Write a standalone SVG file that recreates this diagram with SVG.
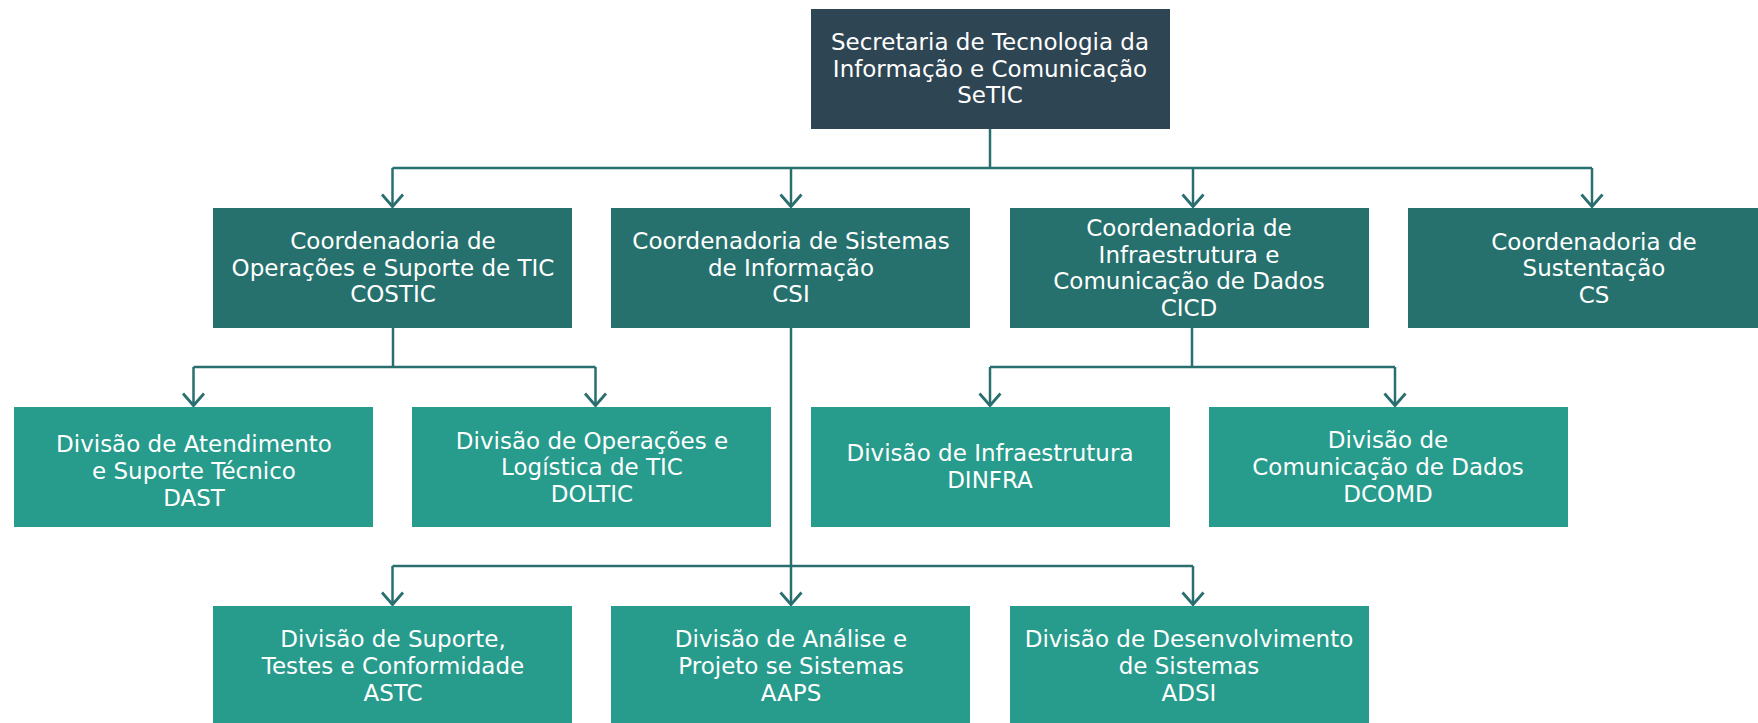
<svg xmlns="http://www.w3.org/2000/svg" width="1758" height="723" viewBox="0 0 1758 723">
<defs>
<style>
.top{fill:#2e4553}
.l1{fill:#26716d}
.l2{fill:#279b8c}
text{font-family:"DejaVu Sans","Liberation Sans",sans-serif;font-size:23px;fill:#ffffff;text-anchor:middle}
.c{fill:none;stroke:#2a6f6f;stroke-width:2.5}
</style>
<marker id="arr" markerUnits="userSpaceOnUse" markerWidth="30" markerHeight="30" viewBox="-15 -15 30 30" refX="0" refY="0" orient="auto" overflow="visible">
<path d="M-12,-10.5 L0,0 L-12,10.5" fill="none" stroke="#2a6f6f" stroke-width="2.8"/>
</marker>
</defs>
<rect width="1758" height="723" fill="#ffffff"/>
<g id="connectors" class="c">
<path d="M990,129 V168 M392.5,168 H1592"/>
<path d="M392.5,168 V206.5" marker-end="url(#arr)"/>
<path d="M791,168 V206.5" marker-end="url(#arr)"/>
<path d="M1193,168 V206.5" marker-end="url(#arr)"/>
<path d="M1592,168 V206.5" marker-end="url(#arr)"/>
<path d="M393,328 V367 M193.5,367 H595.5"/>
<path d="M193.5,367 V405.5" marker-end="url(#arr)"/>
<path d="M595.5,367 V405.5" marker-end="url(#arr)"/>
<path d="M1192,328 V367 M990,367 H1395"/>
<path d="M990,367 V405.5" marker-end="url(#arr)"/>
<path d="M1395,367 V405.5" marker-end="url(#arr)"/>
<path d="M791,328 V566 M392.5,566 H1193"/>
<path d="M392.5,566 V604.5" marker-end="url(#arr)"/>
<path d="M791,566 V604.5" marker-end="url(#arr)"/>
<path d="M1193,566 V604.5" marker-end="url(#arr)"/>
</g>
<g id="setic">
<rect class="top" x="811" y="9" width="359" height="120"/>
<text x="990" y="50">Secretaria de Tecnologia da</text>
<text x="990" y="76.5">Informação e Comunicação</text>
<text x="990" y="103">SeTIC</text>
</g>
<g id="costic">
<rect class="l1" x="213" y="208" width="359" height="120"/>
<text x="393" y="249.3">Coordenadoria de</text>
<text x="393" y="275.5">Operações e Suporte de TIC</text>
<text x="393" y="302">COSTIC</text>
</g>
<g id="csi">
<rect class="l1" x="611" y="208" width="359" height="120"/>
<text x="791" y="249.3">Coordenadoria de Sistemas</text>
<text x="791" y="275.5">de Informação</text>
<text x="791" y="302">CSI</text>
</g>
<g id="cicd">
<rect class="l1" x="1010" y="208" width="359" height="120"/>
<text x="1189" y="236">Coordenadoria de</text>
<text x="1189" y="262.5">Infraestrutura e</text>
<text x="1189" y="289">Comunicação de Dados</text>
<text x="1189" y="315.5">CICD</text>
</g>
<g id="cs">
<rect class="l1" x="1408" y="208" width="372" height="120"/>
<text x="1594" y="250">Coordenadoria de</text>
<text x="1594" y="276.3">Sustentação</text>
<text x="1594" y="302.7">CS</text>
</g>
<g id="dast">
<rect class="l2" x="14" y="407" width="359" height="120"/>
<text x="194" y="452">Divisão de Atendimento</text>
<text x="194" y="479">e Suporte Técnico</text>
<text x="194" y="506">DAST</text>
</g>
<g id="doltic">
<rect class="l2" x="412" y="407" width="359" height="120"/>
<text x="592" y="448.5">Divisão de Operações e</text>
<text x="592" y="475">Logística de TIC</text>
<text x="592" y="501.7">DOLTIC</text>
</g>
<g id="dinfra">
<rect class="l2" x="811" y="407" width="359" height="120"/>
<text x="990" y="461">Divisão de Infraestrutura</text>
<text x="990" y="487.7">DINFRA</text>
</g>
<g id="dcomd">
<rect class="l2" x="1209" y="407" width="359" height="120"/>
<text x="1388" y="448.3">Divisão de</text>
<text x="1388" y="475">Comunicação de Dados</text>
<text x="1388" y="501.7">DCOMD</text>
</g>
<g id="astc">
<rect class="l2" x="213" y="606" width="359" height="120"/>
<text x="393" y="646.7">Divisão de Suporte,</text>
<text x="393" y="674">Testes e Conformidade</text>
<text x="393" y="700.7">ASTC</text>
</g>
<g id="aaps">
<rect class="l2" x="611" y="606" width="359" height="120"/>
<text x="791" y="646.7">Divisão de Análise e</text>
<text x="791" y="674">Projeto se Sistemas</text>
<text x="791" y="700.7">AAPS</text>
</g>
<g id="adsi">
<rect class="l2" x="1010" y="606" width="359" height="120"/>
<text x="1189" y="646.7">Divisão de Desenvolvimento</text>
<text x="1189" y="674">de Sistemas</text>
<text x="1189" y="700.7">ADSI</text>
</g>
</svg>
